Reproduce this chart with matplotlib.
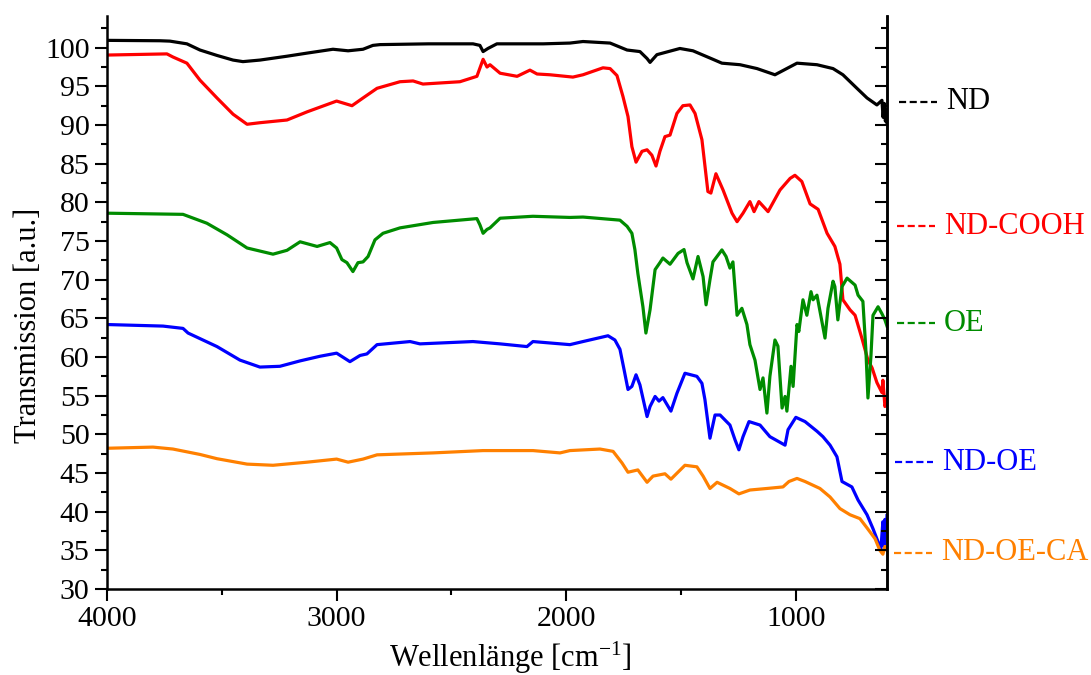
import numpy as np
import matplotlib
matplotlib.use("Agg")
import matplotlib.pyplot as plt
from matplotlib.lines import Line2D
from matplotlib.ticker import MultipleLocator

plt.rcParams['font.family'] = ['Liberation Serif', 'DejaVu Serif']
plt.rcParams['mathtext.fontset'] = 'custom'
plt.rcParams['mathtext.rm'] = 'Liberation Serif'
plt.rcParams['mathtext.it'] = 'Liberation Serif:italic'

# ---------------- data (wavenumber cm^-1, transmission) ----------------
ND = [(4000, 100.95), (3769, 100.9), (3726, 100.85), (3652, 100.5), (3595, 99.7),
      (3521, 99.0), (3451, 98.4), (3408, 98.2), (3334, 98.4), (3216, 98.9),
      (3129, 99.3), (3016, 99.8), (2950, 99.6), (2885, 99.8), (2842, 100.3),
      (2811, 100.4), (2600, 100.5), (2406, 100.5), (2376, 100.3), (2362, 99.5),
      (2341, 99.9), (2302, 100.5), (2100, 100.5), (1984, 100.6), (1927, 100.8),
      (1809, 100.6), (1735, 99.7), (1679, 99.5), (1648, 98.6), (1635, 98.1),
      (1605, 99.1), (1505, 99.9), (1448, 99.6), (1361, 98.5), (1322, 98.0),
      (1243, 97.8), (1169, 97.3), (1091, 96.5), (995, 98.0), (908, 97.8),
      (838, 97.3), (795, 96.5), (734, 94.75), (690, 93.5), (647, 92.6),
      (625, 93.2), (620, 91.0), (615, 92.8), (610, 90.5), (605, 92.0), (603, 90.3)]

ND_COOH = [(4000, 99.05), (3739, 99.2), (3713, 98.8), (3652, 98.0), (3595, 95.8),
           (3521, 93.5), (3451, 91.4), (3390, 90.1), (3334, 90.3), (3216, 90.65),
           (3129, 91.7), (3000, 93.1), (2933, 92.5), (2885, 93.5), (2824, 94.75),
           (2724, 95.6), (2667, 95.7), (2624, 95.3), (2463, 95.6), (2389, 96.3),
           (2362, 98.5), (2345, 97.5), (2332, 97.8), (2288, 96.7), (2214, 96.3),
           (2158, 97.1), (2127, 96.6), (2071, 96.5), (1971, 96.2), (1927, 96.5),
           (1840, 97.4), (1809, 97.3), (1779, 96.4), (1753, 93.7), (1731, 91.1),
           (1714, 87.2), (1696, 85.2), (1670, 86.6), (1648, 86.8), (1627, 86.1),
           (1609, 84.7), (1592, 86.6), (1570, 88.5), (1548, 88.7), (1518, 91.5),
           (1492, 92.5), (1461, 92.6), (1439, 91.5), (1409, 88.1), (1383, 81.4),
           (1370, 81.2), (1348, 83.7), (1317, 81.6), (1278, 78.6), (1256, 77.5),
           (1230, 78.6), (1200, 80.1), (1182, 78.8), (1161, 80.1), (1121, 78.8),
           (1069, 81.6), (1025, 83.1), (1004, 83.5), (974, 82.7), (938, 79.8),
           (903, 79.1), (864, 76.0), (830, 74.3), (808, 72.0), (795, 67.4),
           (764, 66.1), (742, 65.4), (712, 62.4), (686, 59.6), (668, 58.6),
           (647, 56.7), (625, 55.4), (621, 57.0), (612, 53.6), (603, 54.5)]

OE = [(4000, 78.6), (3669, 78.45), (3565, 77.3), (3477, 75.8), (3390, 74.1),
      (3277, 73.3), (3216, 73.8), (3159, 74.9), (3085, 74.3), (3029, 74.8),
      (3000, 74.1), (2977, 72.6), (2955, 72.2), (2929, 71.05), (2907, 72.2),
      (2885, 72.3), (2863, 73.0), (2833, 75.15), (2798, 76.0), (2724, 76.7),
      (2580, 77.4), (2389, 77.9), (2376, 77.1), (2362, 76.0), (2345, 76.5),
      (2332, 76.7), (2288, 77.95), (2145, 78.2), (1984, 78.05), (1927, 78.1),
      (1766, 77.7), (1735, 76.9), (1714, 76.0), (1701, 73.9), (1688, 70.8),
      (1666, 66.5), (1653, 63.1), (1635, 66.1), (1613, 71.3), (1592, 72.2),
      (1579, 72.8), (1548, 72.0), (1513, 73.4), (1487, 73.9), (1474, 72.2),
      (1448, 70.1), (1426, 73.0), (1404, 70.4), (1391, 66.75), (1374, 70.0),
      (1361, 72.3), (1322, 73.85), (1304, 73.0), (1287, 71.5), (1274, 72.3),
      (1256, 65.4), (1235, 66.3), (1213, 64.2), (1200, 61.6), (1178, 59.6),
      (1156, 55.8), (1143, 57.3), (1126, 52.75), (1113, 57.5), (1091, 62.2),
      (1078, 61.4), (1060, 53.4), (1047, 54.9), (1039, 53.0), (1021, 58.8),
      (1012, 56.2), (995, 64.2), (987, 63.3), (969, 67.4), (952, 65.4),
      (934, 68.45), (925, 67.4), (908, 68.0), (873, 62.45), (860, 66.3),
      (838, 69.8), (830, 69.1), (817, 64.8), (799, 69.1), (777, 70.2),
      (742, 69.3), (729, 68.0), (708, 67.2), (695, 60.9), (686, 54.7),
      (673, 60.1), (664, 65.4), (642, 66.5), (625, 65.6), (612, 64.8), (603, 64.0)]

ND_OE = [(4000, 64.2), (3756, 64.0), (3669, 63.7), (3647, 63.1), (3521, 61.35),
         (3421, 59.6), (3334, 58.7), (3247, 58.8), (3159, 59.5), (3072, 60.1),
         (3000, 60.5), (2942, 59.4), (2898, 60.2), (2868, 60.4), (2824, 61.6),
         (2680, 62.0), (2637, 61.7), (2406, 62.0), (2288, 61.7), (2171, 61.35),
         (2145, 62.0), (1984, 61.6), (1927, 62.0), (1818, 62.75), (1788, 62.2),
         (1766, 61.0), (1748, 58.35), (1731, 55.8), (1714, 56.2), (1696, 57.7),
         (1679, 56.4), (1648, 52.3), (1635, 53.6), (1613, 54.9), (1596, 54.3),
         (1579, 54.75), (1544, 53.0), (1518, 55.3), (1483, 57.9), (1431, 57.5),
         (1409, 56.6), (1396, 54.5), (1374, 49.5), (1352, 52.5), (1330, 52.5),
         (1287, 51.2), (1265, 49.3), (1248, 48.0), (1230, 49.7), (1204, 51.65),
         (1156, 51.2), (1113, 49.7), (1047, 48.6), (1034, 50.6), (1000, 52.2),
         (960, 51.65), (908, 50.4), (882, 49.7), (851, 48.6), (821, 47.1),
         (799, 43.9), (756, 43.2), (729, 41.5), (690, 39.6), (664, 37.8),
         (642, 36.1), (630, 35.0), (621, 38.7), (615, 35.5), (612, 39.0),
         (605, 37.5), (603, 39.5)]

ND_OE_CA = [(4000, 48.2), (3800, 48.35), (3713, 48.1), (3595, 47.4), (3521, 46.85),
            (3390, 46.15), (3277, 46.0), (3129, 46.4), (3000, 46.8), (2950, 46.4),
            (2885, 46.8), (2824, 47.35), (2580, 47.6), (2362, 47.9), (2145, 47.9),
            (2027, 47.6), (1984, 47.9), (1853, 48.1), (1796, 47.8), (1757, 46.3),
            (1731, 45.1), (1688, 45.4), (1648, 43.8), (1622, 44.6), (1570, 44.9),
            (1544, 44.2), (1483, 46.0), (1431, 45.8), (1404, 44.6), (1374, 43.0),
            (1343, 43.8), (1287, 43.0), (1248, 42.3), (1200, 42.8), (1126, 43.0),
            (1056, 43.2), (1030, 43.9), (995, 44.3), (960, 43.9), (895, 43.0),
            (851, 41.9), (808, 40.4), (764, 39.6), (721, 39.1), (690, 37.9),
            (655, 36.5), (634, 35.0), (621, 34.5), (612, 35.5), (603, 35.0)]

labels = ["ND", "ND-COOH", "OE", "ND-OE", "ND-OE-CA"]
series = [ND, ND_COOH, OE, ND_OE, ND_OE_CA]
colors = ["#000000", "#ff0000", "#008c00", "#0000ff", "#ff8000"]

x_ticks = [4000, 3000, 2000, 1000]
y_ticks = list(range(30, 101, 5))

# ---------------- figure ----------------
W, H = 1091, 675
fig = plt.figure(figsize=(W / 100, H / 100), dpi=100)
L, R, T, B = 107, 887, 16, 589
ax = fig.add_axes([L / W, 1 - B / H, (R - L) / W, (B - T) / H])

for pts, c in zip(series, colors):
    arr = np.array(pts, dtype=float)
    ax.plot(arr[:, 0], arr[:, 1], color=c, lw=2.3, solid_joinstyle='round')

ax.set_xlim(4000, 603)
ax.set_ylim(30, 104.1)
ax.set_xticks(x_ticks)
ax.xaxis.set_minor_locator(MultipleLocator(500))
ax.set_yticks(y_ticks)
ax.yaxis.set_minor_locator(MultipleLocator(2.5))

for s in ['left', 'bottom', 'right']:
    ax.spines[s].set_linewidth(1.8)
ax.spines['top'].set_visible(False)

ax.tick_params(axis='both', which='major', direction='out', length=8.5, width=1.5,
               labelsize=21.5, pad=4)
ax.tick_params(axis='both', which='minor', direction='out', length=4.5, width=1.5)

# right axis ticks pointing inward
ax2 = ax.twinx()
ax2.set_ylim(ax.get_ylim())
ax2.set_yticks(y_ticks)
ax2.yaxis.set_minor_locator(MultipleLocator(2.5))
ax2.tick_params(axis='y', which='major', direction='in', length=8.5, width=1.5,
                labelright=False)
ax2.tick_params(axis='y', which='minor', direction='in', length=4.0, width=1.5)
for s in ['left', 'bottom', 'top']:
    ax2.spines[s].set_visible(False)
ax2.spines['right'].set_linewidth(1.8)

# axis labels
fig.text(28 / W, 1 - 325 / H, "Transmission [a.u.]", rotation=90,
         ha='center', va='center', fontsize=22)
fig.text(510 / W, 1 - 667 / H, "Wellenlänge [cm$^{-1}$]",
         ha='center', va='baseline', fontsize=22)

# side labels with dashed samples
leg_y = [101.5, 226, 323, 462, 553]
leg_x0 = [899, 897, 897, 895, 894]
for lab, c, yy, x0 in zip(labels, colors, leg_y, leg_x0):
    yf = 1 - yy / H
    fig.add_artist(Line2D([x0 / W, (x0 + 38) / W], [yf, yf], transform=fig.transFigure,
                          color=c, lw=1.6, dashes=(3.2, 1.6)))
    fig.text((x0 + 47) / W, yf, lab, color=c, fontsize=22, ha='left', va='center')

fig.savefig("out.png", dpi=100)
